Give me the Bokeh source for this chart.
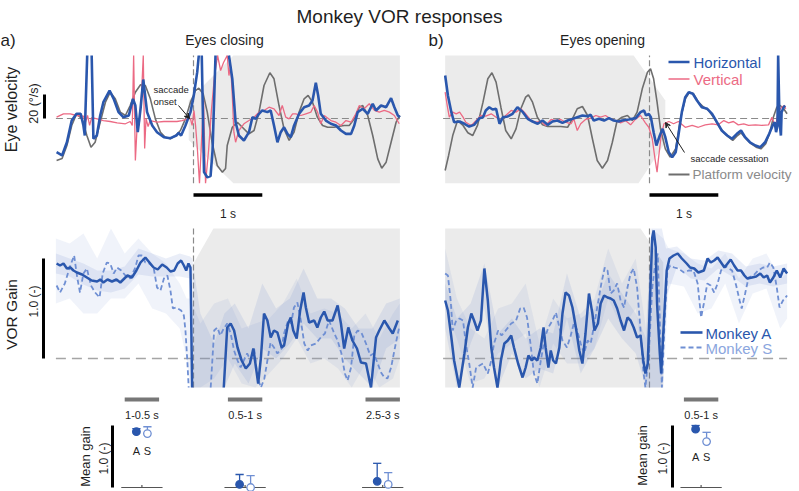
import numpy as np
from bokeh.plotting import figure
from bokeh.models import Range1d, Label, Arrow, VeeHead
from bokeh.embed import file_html
from bokeh.resources import INLINE

nan = float("nan")

# ---------------- data ----------------
# Eye / platform velocity (deg/s) around saccade onset (eyes closing), time in s
vel_close_h = [(-1.99, -28.1), (-1.91, -30.8), (-1.84, -19.8), (-1.77, -1.7), (-1.70, 3.9), (-1.64, 3.9),
               (-1.60, -5.8), (-1.58, -14.2), (-1.57, 6.7), (-1.545, 52.5), (-1.51, nan), (-1.48, 52.5),
               (-1.455, -16.9), (-1.405, -14.2), (-1.356, 2.5), (-1.31, 13.6), (-1.22, 23.3), (-1.16, 16.4),
               (-1.09, 5.3), (-1.02, 1.1), (-0.94, 2.5), (-0.88, 16.4), (-0.845, 10.8), (-0.81, -11.4),
               (-0.77, 8.1), (-0.73, 32.5), (-0.675, 5.3), (-0.60, -5.8), (-0.53, -11.4), (-0.43, -15.6),
               (-0.335, -16.4), (-0.25, -14.2), (-0.215, -11.9), (-0.18, -14.2), (-0.117, -5.8), (-0.044, 5.3),
               (0.004, 19.2), (0.054, 38.6), (0.077, 52.5), (0.10, nan), (0.12, 52.5), (0.153, -44.7),
               (0.20, -48.9), (0.248, -48.0), (0.277, -26.7), (0.32, 52.5), (0.42, nan), (0.515, 52.5),
               (0.564, 33.0), (0.612, -3.1), (0.66, -14.2), (0.733, -18.3), (0.806, -11.4), (0.856, 1.1),
               (0.904, -0.3), (0.952, 3.9), (1.0, 6.7), (1.074, 5.3), (1.122, 6.7), (1.17, -5.8),
               (1.22, -19.8), (1.268, -11.4), (1.316, -7.3), (1.366, -12.8), (1.414, -15.6), (1.462, -5.8),
               (1.535, 3.9), (1.608, 9.4), (1.68, 10.8), (1.73, 15.0), (1.778, 29.8), (1.812, 19.2),
               (1.85, 3.9), (1.924, -1.7), (1.997, -4.4), (2.07, -5.8), (2.143, -10.0), (2.216, -12.8),
               (2.29, -12.8), (2.337, -5.8), (2.386, 5.3), (2.46, 8.1), (2.532, 3.9), (2.605, 12.3),
               (2.653, 6.7), (2.726, 10.8), (2.80, 9.4), (2.872, 16.9), (2.92, 9.4), (2.97, 2.5), (3.0, 1.1)]

vel_close_v = [(-1.99, 1.1), (-1.89, 3.9), (-1.79, 3.9), (-1.70, 2.5), (-1.60, 1.9), (-1.57, -3.1),
               (-1.54, 2.5), (-1.51, -5.8), (-1.48, 0.8), (-1.40, -0.3), (-1.31, -1.7), (-1.21, -2.5),
               (-1.11, -3.6), (-0.99, -4.4), (-0.92, -2.5), (-0.89, -5.8), (-0.87, 52.5), (-0.845, -35.0),
               (-0.815, -1.7), (-0.79, -5.8), (-0.76, 15.0), (-0.73, 52.5), (-0.71, -25.0), (-0.69, 0.0),
               (-0.66, -6.7), (-0.63, -1.7), (-0.53, -3.1), (-0.43, -2.5), (-0.335, -2.5), (-0.24, -2.5),
               (-0.165, -1.7), (-0.09, -0.3), (-0.044, -0.3), (-0.02, -5.8), (0.007, 6.7), (0.03, -5.8),
               (0.058, -26.7), (0.087, -54.0), (0.117, -18.3), (0.146, 15.0), (0.175, -54.0), (0.219, -26.7),
               (0.26, 6.7), (0.306, 35.8), (0.35, 52.5), (0.394, 40.0), (0.437, 46.7), (0.49, 52.5),
               (0.515, 35.8), (0.54, 44.0), (0.564, 19.2), (0.587, -11.4), (0.612, -19.8), (0.66, -10.0),
               (0.733, -4.4), (0.806, -1.7), (0.88, 1.1), (0.952, 5.3), (1.025, 6.7), (1.098, 9.4),
               (1.17, 8.1), (1.243, 2.5), (1.29, 10.8), (1.34, 1.1), (1.39, -0.3), (1.44, 3.9), (1.487, 3.9),
               (1.56, 2.5), (1.633, 3.9), (1.706, 5.3), (1.754, 10.8), (1.803, 5.3), (1.85, -4.4), (1.90, 2.5),
               (1.997, -1.7), (2.07, -3.1), (2.143, -5.8), (2.216, -1.7), (2.29, -3.1), (2.36, 3.9),
               (2.41, 10.8), (2.48, 8.1), (2.555, 12.3), (2.63, 6.7), (2.70, 5.3), (2.774, 6.7), (2.847, 5.3),
               (2.92, 2.5), (2.99, -4.4)]

vel_close_p = [(-1.99, -35.0), (-1.91, -33.3), (-1.84, -22.5), (-1.77, -5.8), (-1.70, 3.9), (-1.62, -0.3),
               (-1.55, -14.2), (-1.49, -23.9), (-1.43, -19.8), (-1.356, -3.1), (-1.28, 13.6), (-1.21, 21.9),
               (-1.137, 16.4), (-1.064, 5.3), (-0.99, 2.5), (-0.92, 10.8), (-0.845, 21.9), (-0.77, 28.1),
               (-0.70, 27.5), (-0.627, 16.4), (-0.554, -0.3), (-0.48, -11.4), (-0.41, -15.6), (-0.335, -16.9),
               (-0.26, -14.2), (-0.19, -10.0), (-0.117, -0.3), (-0.044, 13.6), (0.03, 23.3), (0.077, 25.3),
               (0.14, 20.6), (0.20, 5.3), (0.27, -19.8), (0.345, -39.2), (0.42, -44.7), (0.466, -41.7),
               (0.49, -22.5), (0.564, -7.3), (0.637, -3.1), (0.71, -7.3), (0.806, -12.8), (0.88, -10.0),
               (0.952, 5.3), (1.025, 27.5), (1.11, 38.1), (1.17, 33.1), (1.243, 10.8), (1.316, -8.6),
               (1.39, -18.3), (1.462, -11.4), (1.535, 5.3), (1.608, 16.4), (1.666, 19.2), (1.73, 13.6),
               (1.80, 1.1), (1.876, -5.8), (1.95, -7.3), (2.045, -7.3), (2.12, -6.4), (2.19, -5.8),
               (2.264, -5.8), (2.337, -0.3), (2.41, 9.4), (2.46, 10.8), (2.532, 2.5), (2.605, -14.2),
               (2.678, -33.6), (2.736, -41.4), (2.80, -36.4), (2.872, -19.8), (2.945, -3.1), (3.0, 2.5)]

# Eye / platform velocity (deg/s) around saccade cessation (eyes opening)
vel_open_h = [(-2.97, 35.8), (-2.93, 19.2), (-2.88, 5.3), (-2.84, -3.1), (-2.76, -2.5), (-2.69, -4.4),
              (-2.62, -6.7), (-2.55, -5.3), (-2.47, 0.3), (-2.42, 1.1), (-2.38, 6.7), (-2.33, 9.4),
              (-2.28, 7.5), (-2.23, 8.1), (-2.18, -4.4), (-2.13, 1.1), (-2.06, 1.7), (-1.99, 3.9),
              (-1.92, 9.4), (-1.84, 5.3), (-1.77, -0.3), (-1.70, -2.5), (-1.625, -4.4), (-1.555, -1.7),
              (-1.48, -5.3), (-1.41, -2.5), (-1.34, -1.7), (-1.265, -3.6), (-1.19, -1.7), (-1.12, -0.3),
              (-1.05, 1.1), (-0.975, 2.5), (-0.90, 1.9), (-0.855, 3.1), (-0.81, -1.7), (-0.735, -0.3),
              (-0.66, -1.7), (-0.59, 0.3), (-0.52, -1.7), (-0.445, -2.5), (-0.40, -1.7), (-0.30, -0.8),
              (-0.20, 0.3), (-0.13, 5.3), (-0.08, 6.7), (-0.05, 2.5), (-0.01, 3.9), (0.02, 1.1),
              (0.06, -11.4), (0.10, -22.5), (0.15, -14.2), (0.19, -8.6), (0.23, -15.6), (0.28, -28.1),
              (0.33, -32.2), (0.38, -28.1), (0.42, -14.2), (0.47, 5.3), (0.52, 17.8), (0.57, 21.9),
              (0.63, 20.6), (0.69, 15.0), (0.76, 9.4), (0.84, 8.1), (0.91, 3.9), (0.98, -3.1),
              (1.05, -10.0), (1.13, -14.2), (1.20, -16.9), (1.27, -12.8), (1.33, -10.0), (1.39, -15.6),
              (1.46, -19.8), (1.54, -22.5), (1.61, -23.9), (1.68, -19.8), (1.74, -12.8), (1.79, -5.8),
              (1.82, -3.1), (1.84, -11.4), (1.86, -5.8), (1.87, 52.5), (1.89, -3.1), (1.91, -14.2),
              (1.92, 5.3), (1.95, 9.4), (1.97, 10.8)]

vel_open_v = [(-2.97, 21.9), (-2.94, 10.8), (-2.91, 1.1), (-2.86, 5.3), (-2.81, 3.9), (-2.76, 5.3),
              (-2.71, 1.1), (-2.67, -3.1), (-2.59, -5.8), (-2.52, -1.7), (-2.45, 2.5), (-2.38, 1.9),
              (-2.30, 3.9), (-2.23, 1.1), (-2.16, -1.7), (-2.09, 2.5), (-2.01, 6.7), (-1.94, 5.3),
              (-1.87, 8.1), (-1.80, 3.9), (-1.72, -1.7), (-1.65, -3.1), (-1.58, -2.5), (-1.51, -5.8),
              (-1.43, -0.8), (-1.36, -1.7), (-1.29, -0.8), (-1.22, -3.1), (-1.14, -4.4), (-1.10, -0.3),
              (-1.05, -10.0), (-1.0, -4.4), (-0.93, -0.8), (-0.855, 0.3), (-0.78, 2.5), (-0.71, 1.1),
              (-0.64, 2.5), (-0.565, -0.3), (-0.49, -1.7), (-0.42, -3.6), (-0.35, -1.7), (-0.275, -5.3),
              (-0.20, -0.3), (-0.13, 2.5), (-0.06, -3.6), (-0.01, -7.3), (0.04, -16.9), (0.08, -33.6),
              (0.11, -44.7), (0.13, -33.6), (0.17, -14.2), (0.21, -4.4), (0.28, -2.5), (0.35, -4.4),
              (0.42, -2.5), (0.52, -7.3), (0.62, -5.8), (0.71, -7.3), (0.81, -5.3), (0.91, -4.4),
              (1.0, -5.3), (1.08, -1.7), (1.15, -3.6), (1.22, -2.5), (1.29, -5.3), (1.37, -4.4),
              (1.44, -5.8), (1.54, -5.3), (1.63, -5.8), (1.73, -5.3), (1.78, 1.1), (1.83, -7.3),
              (1.87, 5.3), (1.92, 9.4), (1.96, 10.8), (1.98, 8.1)]

vel_open_p = [(-2.97, -43.3), (-2.92, -30.8), (-2.86, -14.2), (-2.79, -1.7), (-2.71, -5.8), (-2.64, -11.9),
              (-2.57, -14.2), (-2.50, -5.8), (-2.42, 13.6), (-2.35, 33.1), (-2.29, 38.1), (-2.23, 30.3),
              (-2.16, 9.4), (-2.09, -10.0), (-2.01, -16.9), (-1.94, -8.6), (-1.87, 8.1), (-1.80, 17.8),
              (-1.76, 19.7), (-1.70, 13.6), (-1.63, 1.1), (-1.555, -5.3), (-1.48, -6.7), (-1.39, -6.7),
              (-1.29, -6.7), (-1.19, -7.3), (-1.12, -0.3), (-1.05, 8.1), (-0.975, 10.0), (-0.90, 2.5),
              (-0.83, -16.9), (-0.76, -35.0), (-0.685, -41.4), (-0.61, -35.0), (-0.54, -19.8), (-0.47, -1.7),
              (-0.40, 1.1), (-0.32, 2.5), (-0.25, -1.7), (-0.18, 5.3), (-0.105, 24.7), (-0.03, 38.6),
              (0.015, 41.4), (0.06, 33.1), (0.11, 13.6), (0.16, -8.6), (0.23, -25.3), (0.30, -32.2),
              (0.38, -25.3), (0.45, -0.3), (0.52, 16.4), (0.58, 21.9), (0.64, 20.6), (0.71, 13.6),
              (0.79, 9.4), (0.86, 6.7), (0.93, 1.1), (1.0, -5.8), (1.08, -11.9), (1.15, -15.6),
              (1.21, -18.3), (1.27, -14.7), (1.33, -11.9), (1.40, -16.9), (1.48, -21.1), (1.55, -23.9),
              (1.62, -25.3), (1.69, -21.1), (1.75, -11.4), (1.80, 1.1), (1.85, 9.4), (1.90, 10.8),
              (1.95, 8.1), (2.0, 3.9)]

# VOR gain, eyes closing: monkey A (solid) and monkey S (dashed)
gain_close_a = [(-1.99, 0.95), (-1.94, 0.93), (-1.89, 0.95), (-1.84, 0.90), (-1.79, 0.91), (-1.745, 0.88),
                (-1.695, 0.86), (-1.62, 0.84), (-1.55, 0.81), (-1.48, 0.78), (-1.40, 0.77), (-1.356, 0.79),
                (-1.31, 0.76), (-1.25, 0.79), (-1.185, 0.77), (-1.12, 0.79), (-1.064, 0.76), (-1.005, 0.80),
                (-0.96, 0.83), (-0.895, 0.81), (-0.83, 0.88), (-0.77, 0.96), (-0.70, 1.01), (-0.64, 0.96),
                (-0.58, 0.91), (-0.52, 0.89), (-0.455, 0.94), (-0.39, 0.91), (-0.335, 0.87), (-0.28, 0.88),
                (-0.23, 0.95), (-0.18, 0.98), (-0.14, 0.93), (-0.106, 0.88), (-0.073, 0.95), (-0.044, 0.91),
                (-0.02, -0.29), (0.2, nan), (0.44, -0.29), (0.49, 0.31), (0.54, 0.35), (0.59, 0.28),
                (0.64, 0.11), (0.70, -0.02), (0.76, -0.10), (0.82, -0.05), (0.87, 0.10), (0.90, -0.05),
                (0.94, -0.25), (0.98, 0.01), (1.025, 0.45), (1.074, 0.38), (1.122, 0.21), (1.17, 0.28),
                (1.22, 0.26), (1.28, 0.11), (1.316, 0.13), (1.375, 0.35), (1.414, 0.41), (1.45, 0.28),
                (1.50, 0.20), (1.55, 0.48), (1.60, 0.66), (1.633, 0.51), (1.68, 0.36), (1.754, 0.38),
                (1.80, 0.31), (1.85, 0.41), (1.90, 0.47), (1.95, 0.38), (2.02, 0.38), (2.095, 0.53),
                (2.143, 0.35), (2.19, 0.10), (2.25, 0.31), (2.31, 0.18), (2.376, 0.10), (2.434, -0.04),
                (2.507, -0.05), (2.58, -0.29), (2.653, 0.21), (2.70, 0.28), (2.774, 0.38), (2.847, 0.30),
                (2.896, 0.25), (2.97, 0.38)]

gain_close_s = [(-1.99, 0.73), (-1.94, 0.66), (-1.87, 0.75), (-1.80, 0.91), (-1.735, 1.03), (-1.69, 0.81),
                (-1.65, 0.66), (-1.60, 0.85), (-1.55, 0.90), (-1.49, 0.73), (-1.43, 0.66), (-1.365, 0.61),
                (-1.32, 0.85), (-1.26, 0.96), (-1.21, 0.95), (-1.16, 0.85), (-1.11, 0.91), (-1.05, 0.88),
                (-0.99, 0.83), (-0.92, 0.80), (-0.845, 0.91), (-0.80, 1.03), (-0.75, 1.03), (-0.70, 0.96),
                (-0.64, 0.95), (-0.58, 0.91), (-0.53, 0.71), (-0.48, 0.68), (-0.43, 0.80), (-0.38, 0.83),
                (-0.335, 0.68), (-0.30, 0.50), (-0.25, 0.51), (-0.18, 0.48), (-0.14, 0.43), (-0.117, 0.28),
                (-0.09, -0.02), (-0.07, -0.29), (0.1, nan), (0.25, -0.29), (0.30, 0.28), (0.345, 0.31),
                (0.39, 0.23), (0.44, 0.30), (0.49, 0.35), (0.54, 0.25), (0.59, 0.08), (0.64, -0.02),
                (0.685, -0.09), (0.73, -0.02), (0.78, 0.05), (0.83, -0.02), (0.88, 0.11), (0.93, -0.19),
                (0.98, -0.29), (1.03, -0.20), (1.074, -0.02), (1.12, 0.16), (1.17, 0.11), (1.22, 0.05),
                (1.28, 0.10), (1.316, 0.25), (1.375, 0.38), (1.42, 0.35), (1.46, 0.51), (1.51, 0.56),
                (1.56, 0.38), (1.61, 0.15), (1.66, 0.08), (1.705, 0.13), (1.78, 0.15), (1.85, 0.21),
                (1.91, 0.25), (1.97, 0.38), (2.04, 0.26), (2.095, 0.18), (2.15, 0.05), (2.20, -0.15),
                (2.24, -0.22), (2.29, -0.09), (2.337, 0.23), (2.386, 0.28), (2.44, 0.26), (2.507, 0.15),
                (2.57, 0.03), (2.62, 0.05), (2.678, -0.05), (2.726, -0.14), (2.774, -0.19), (2.82, -0.20),
                (2.872, -0.09), (2.92, 0.08), (2.97, 0.25), (2.99, 0.31)]

# VOR gain, eyes opening
gain_open_a = [(-2.97, 0.58), (-2.93, 0.48), (-2.88, 0.21), (-2.84, -0.02), (-2.765, -0.29), (-2.69, 0.05),
               (-2.64, 0.31), (-2.59, 0.45), (-2.55, 0.38), (-2.50, 0.28), (-2.45, 0.38), (-2.40, 0.90),
               (-2.35, 0.58), (-2.30, 0.11), (-2.26, -0.09), (-2.21, -0.29), (-2.16, -0.02), (-2.11, 0.15),
               (-2.06, 0.18), (-2.01, 0.23), (-1.97, 0.11), (-1.91, -0.05), (-1.845, -0.19), (-1.80, -0.09),
               (-1.76, 0.03), (-1.71, -0.02), (-1.68, 0.01), (-1.63, -0.02), (-1.58, 0.11), (-1.54, 0.31),
               (-1.51, 0.11), (-1.47, -0.09), (-1.435, 0.08), (-1.40, -0.02), (-1.36, -0.05), (-1.31, 0.11),
               (-1.265, 0.45), (-1.22, 0.66), (-1.17, 0.63), (-1.12, 0.51), (-1.07, 0.31), (-1.02, 0.08),
               (-0.975, -0.05), (-0.93, 0.25), (-0.88, 0.65), (-0.83, 0.45), (-0.80, 0.28), (-0.75, 0.35),
               (-0.71, 0.55), (-0.66, 0.63), (-0.61, 0.61), (-0.565, 0.60), (-0.52, 0.58), (-0.47, 0.50),
               (-0.42, 0.38), (-0.37, 0.28), (-0.32, 0.41), (-0.275, 0.38), (-0.23, 0.31), (-0.18, 0.21),
               (-0.13, 0.23), (-0.09, -0.02), (-0.06, -0.15), (-0.025, -0.05), (0.005, 0.55), (0.04, 1.21),
               (0.06, 1.28), (0.09, 1.11), (0.11, 0.55), (0.15, 0.05), (0.17, -0.15), (0.21, 0.38),
               (0.25, 0.88), (0.29, 1.0), (0.35, 1.03), (0.41, 1.05), (0.47, 1.0), (0.54, 0.95),
               (0.59, 0.91), (0.65, 0.90), (0.71, 0.86), (0.79, 0.88), (0.845, 1.0), (0.89, 0.96),
               (0.94, 0.98), (0.99, 1.01), (1.04, 0.96), (1.09, 0.91), (1.135, 0.95), (1.18, 0.99),
               (1.23, 0.93), (1.28, 0.88), (1.33, 0.88), (1.38, 0.83), (1.42, 0.80), (1.49, 0.81),
               (1.55, 0.82), (1.61, 0.85), (1.66, 0.81), (1.71, 0.83), (1.75, 0.76), (1.80, 0.81),
               (1.85, 0.88), (1.90, 0.81), (1.95, 0.90), (2.0, 0.85)]

gain_open_s = [(-2.97, 0.85), (-2.93, 0.83), (-2.89, 0.58), (-2.86, 0.28), (-2.81, 0.38), (-2.76, 0.40),
               (-2.71, 0.38), (-2.67, 0.15), (-2.62, -0.05), (-2.57, -0.29), (-2.52, -0.09), (-2.47, -0.07),
               (-2.42, -0.05), (-2.35, -0.15), (-2.30, -0.02), (-2.26, 0.15), (-2.20, 0.28), (-2.15, 0.23),
               (-2.09, 0.28), (-2.01, 0.35), (-1.94, 0.38), (-1.88, 0.50), (-1.83, 0.51), (-1.78, 0.41),
               (-1.73, 0.15), (-1.68, -0.15), (-1.63, -0.25), (-1.58, -0.02), (-1.52, 0.21), (-1.47, 0.31),
               (-1.41, 0.38), (-1.36, 0.46), (-1.31, 0.31), (-1.265, 0.18), (-1.20, 0.11), (-1.145, 0.23),
               (-1.10, 0.35), (-1.05, 0.28), (-1.0, 0.15), (-0.95, 0.05), (-0.90, 0.18), (-0.855, 0.15),
               (-0.80, 0.35), (-0.75, 0.55), (-0.70, 0.75), (-0.65, 0.91), (-0.61, 0.88), (-0.565, 0.65),
               (-0.52, 0.68), (-0.47, 0.75), (-0.42, 0.58), (-0.37, 0.51), (-0.32, 0.71), (-0.275, 0.85),
               (-0.23, 0.90), (-0.18, 0.71), (-0.13, 0.28), (-0.09, -0.12), (-0.06, -0.29), (-0.01, 0.05),
               (0.04, 0.71), (0.09, 0.98), (0.12, 1.05), (0.15, 0.38), (0.18, -0.29), (0.22, 0.38),
               (0.26, 0.88), (0.30, 0.93), (0.36, 0.91), (0.42, 0.90), (0.50, 0.86), (0.57, 0.88),
               (0.64, 0.88), (0.70, 0.75), (0.75, 0.41), (0.79, 0.55), (0.84, 0.75), (0.89, 0.73),
               (0.94, 0.66), (0.99, 0.75), (1.04, 0.88), (1.09, 0.93), (1.135, 0.91), (1.20, 0.88),
               (1.26, 0.73), (1.31, 0.58), (1.34, 0.50), (1.39, 0.65), (1.44, 0.81), (1.51, 0.83),
               (1.58, 0.88), (1.65, 0.91), (1.71, 0.91), (1.75, 0.96), (1.80, 0.91), (1.85, 0.71),
               (1.89, 0.51), (1.94, 0.58), (2.0, 0.63)]

# spread of the gain traces: (time, lower, upper)
band_close_a = [(-2.0, 0.85, 1.05), (-1.8, 0.82, 1.0), (-1.6, 0.74, 0.95), (-1.4, 0.68, 0.88), (-1.2, 0.66, 0.88),
                (-1.0, 0.70, 0.92), (-0.8, 0.84, 1.10), (-0.6, 0.82, 1.05), (-0.4, 0.82, 1.0), (-0.2, 0.82, 1.05),
                (-0.05, 0.80, 1.02), (-0.02, -0.29, 1.0), (0.1, -0.29, 0.45), (0.3, -0.29, 0.15), (0.45, -0.29, 0.45),
                (0.6, -0.05, 0.55), (0.8, -0.25, 0.3), (1.0, 0.1, 0.75), (1.2, 0.0, 0.5), (1.4, 0.15, 0.6),
                (1.6, 0.35, 0.9), (1.8, 0.2, 0.6), (2.0, 0.2, 0.6), (2.2, 0.0, 0.5), (2.4, -0.15, 0.3),
                (2.6, -0.29, 0.3), (2.8, 0.1, 0.55), (3.0, 0.2, 0.6)]
band_close_s = [(-2.0, 0.55, 1.2), (-1.8, 0.6, 1.15), (-1.6, 0.45, 1.25), (-1.4, 0.45, 1.0), (-1.2, 0.6, 1.3),
                (-1.0, 0.6, 1.05), (-0.8, 0.75, 1.2), (-0.6, 0.5, 1.05), (-0.4, 0.45, 0.95), (-0.2, 0.3, 0.75),
                (-0.1, 0.0, 0.6), (-0.05, -0.29, 0.6), (0.1, -0.29, 0.35), (0.3, -0.2, 0.55), (0.5, 0.0, 0.6),
                (0.7, -0.25, 0.3), (0.9, -0.29, 0.35), (1.1, -0.15, 0.4), (1.3, 0.0, 0.55), (1.5, 0.2, 0.8),
                (1.7, -0.05, 0.45), (1.9, 0.0, 0.5), (2.1, -0.1, 0.45), (2.3, -0.29, 0.3), (2.5, -0.05, 0.45),
                (2.7, -0.29, 0.2), (2.9, -0.2, 0.45), (3.0, 0.0, 0.55)]
band_open_a = [(-2.97, 0.3, 0.75), (-2.8, -0.29, 0.4), (-2.6, 0.15, 0.55), (-2.4, 0.5, 0.95), (-2.2, -0.29, 0.25),
               (-2.0, 0.05, 0.4), (-1.8, -0.2, 0.2), (-1.6, -0.1, 0.3), (-1.4, -0.15, 0.25), (-1.2, 0.4, 0.85),
               (-1.0, -0.15, 0.4), (-0.8, 0.1, 0.5), (-0.6, 0.4, 0.85), (-0.4, 0.2, 0.65), (-0.2, 0.05, 0.45),
               (-0.05, -0.29, 0.2), (0.03, -0.29, 1.3), (0.18, -0.29, 1.3), (0.24, 0.6, 1.1), (0.4, 0.92, 1.12),
               (0.6, 0.8, 1.0), (0.8, 0.78, 0.98), (1.0, 0.9, 1.08), (1.2, 0.82, 1.05), (1.4, 0.72, 0.92),
               (1.6, 0.75, 0.95), (1.8, 0.72, 0.92), (2.0, 0.75, 0.95)]
band_open_s = [(-2.97, 0.5, 1.1), (-2.8, 0.2, 0.6), (-2.6, -0.25, 0.3), (-2.4, -0.2, 0.2), (-2.2, 0.05, 0.5),
               (-2.0, 0.15, 0.55), (-1.8, 0.25, 0.75), (-1.6, -0.29, 0.15), (-1.4, 0.15, 0.6), (-1.2, -0.05, 0.4),
               (-1.0, -0.05, 0.45), (-0.8, 0.1, 0.6), (-0.6, 0.6, 1.1), (-0.4, 0.3, 0.75), (-0.2, 0.5, 1.0),
               (-0.05, -0.29, 0.3), (0.03, -0.29, 1.3), (0.2, -0.29, 1.2), (0.28, 0.75, 1.1), (0.5, 0.72, 1.05),
               (0.7, 0.45, 0.95), (0.9, 0.5, 0.9), (1.1, 0.75, 1.05), (1.3, 0.35, 0.8), (1.5, 0.65, 1.0),
               (1.7, 0.7, 1.05), (1.9, 0.3, 0.8), (2.0, 0.4, 0.85)]

# eyes-closed period outlines (time, value)
closed_vel_close = [(-0.07, 15), (0.58, 52.5), (3.0, 52.5), (3.0, -54), (0.58, -54), (-0.07, -18)]
closed_vel_open = [(-2.97, 52.5), (-0.23, 52.5), (0.23, 15), (0.23, -20), (-0.16, -54), (-2.97, -54)]
closed_gain_close = [(0.0, 0.95), (0.29, 1.3), (3.0, 1.3), (3.0, -0.29), (0.0, -0.29)]
closed_gain_open = [(-2.97, 1.3), (-0.13, 1.3), (0.2, 0.96), (0.2, -0.29), (-2.97, -0.29)]

# mean gain per analysis window
windows_close = [(-1.0, -0.5), (0.5, 1.0), (2.5, 3.0)]
window_labels_close = ["1-0.5 s", "0.5-1 s", "2.5-3 s"]
mean_close_a = [0.90, 0.05, 0.10]
err_close_a = [0.05, 0.16, 0.29]
mean_close_s = [0.87, 0.0, 0.05]
err_close_s = [0.11, 0.19, 0.19]
windows_open = [(0.5, 1.0)]
window_labels_open = ["0.5-1 s"]
mean_open_a = [0.94]
err_open_a = [0.06]
mean_open_s = [0.74]
err_open_s = [0.15]

# ---------------- styling ----------------
W, H = 799, 491
FONT = "Liberation Sans"
INK = "#1f1f1f"
BLUE = "#2A57AD"
PINK = "#EC6A84"
GREY = "#6E6E6E"
S_BLUE = "#6F8FD3"
BAND = "#5B7FCB"
SHADE = "#EBEBEB"

p = figure(width=W, height=H, output_backend="svg", toolbar_location=None,
           x_range=Range1d(0, W), y_range=Range1d(H, 0),
           x_axis_location=None, y_axis_location=None, min_border=0)
p.grid.visible = False
p.outline_line_color = None
p.background_fill_color = "white"
p.border_fill_color = "white"


def axis_range(anchor_px, px_per_unit, size_px, downward=False):
    """Range whose value 0 lands on anchor_px of the canvas."""
    if downward:
        return Range1d(start=(anchor_px - size_px) / px_per_unit, end=anchor_px / px_per_unit)
    return Range1d(start=-anchor_px / px_per_unit, end=(size_px - anchor_px) / px_per_unit)


SEC = 68.8
p.extra_x_ranges = {"ta": axis_range(193, SEC, W), "tb": axis_range(649, SEC, W)}
p.extra_y_ranges = {"vel": axis_range(118, 1.2, H, True),
                    "gain": axis_range(358, 100, H, True),
                    "mean": axis_range(487, 62, H, True)}

VEL_TOP, VEL_BOT = 52.5, -54
GAIN_TOP, GAIN_BOT = 1.3, -0.29


def cols(pairs):
    a = np.array(pairs, dtype=float)
    return [a[:, i] for i in range(a.shape[1])]


def label(x, y, text, size, color=INK, align="left", baseline="alphabetic", angle=0.0, xr="default", yr="default"):
    p.add_layout(Label(x=x, y=y, text=text, text_font=FONT, text_font_size=f"{size}px",
                       text_color=color, text_align=align, text_baseline=baseline, angle=angle,
                       x_range_name=xr, y_range_name=yr))


panels = [
    dict(xr="ta", t0=-2.0, t1=3.0, h=vel_close_h, v=vel_close_v, pl=vel_close_p,
         ga=gain_close_a, gs=gain_close_s, ba=band_close_a, bs=band_close_s,
         sv=closed_vel_close, sg=closed_gain_close),
    dict(xr="tb", t0=-3.0, t1=2.0, h=vel_open_h, v=vel_open_v, pl=vel_open_p,
         ga=gain_open_a, gs=gain_open_s, ba=band_open_a, bs=band_open_s,
         sv=closed_vel_open, sg=closed_gain_open),
]

for pn in panels:
    xr = pn["xr"]
    # eyes-closed shading
    sx, sy = cols(pn["sv"])
    p.patch(sx, sy, x_range_name=xr, y_range_name="vel", fill_color=SHADE, line_color=None)
    gx, gy = cols(pn["sg"])
    p.patch(gx, gy, x_range_name=xr, y_range_name="gain", fill_color=SHADE, line_color=None)

    # reference lines
    p.segment(x0=[pn["t0"]], y0=[0], x1=[pn["t1"]], y1=[0], x_range_name=xr, y_range_name="vel",
              line_color="#8a8a8a", line_width=1, line_dash="7 4")
    p.segment(x0=[0], y0=[VEL_BOT], x1=[0], y1=[VEL_TOP], x_range_name=xr, y_range_name="vel",
              line_color="#8a8a8a", line_width=1.2, line_dash="6 3")
    p.segment(x0=[pn["t0"]], y0=[0], x1=[pn["t1"]], y1=[0], x_range_name=xr, y_range_name="gain",
              line_color="#a5a5a5", line_width=1.5, line_dash="10 6")
    p.segment(x0=[0], y0=[GAIN_BOT], x1=[0], y1=[GAIN_TOP], x_range_name=xr, y_range_name="gain",
              line_color="#8a8a8a", line_width=1.2, line_dash="6 3")

    # velocity traces
    t, y = cols(pn["pl"])
    p.line(t, y, x_range_name=xr, y_range_name="vel", line_color=GREY, line_width=1.6)
    t, y = cols(pn["v"])
    p.line(t, y, x_range_name=xr, y_range_name="vel", line_color=PINK, line_width=1.3)
    t, y = cols(pn["h"])
    p.line(t, y, x_range_name=xr, y_range_name="vel", line_color=BLUE, line_width=2.6)

    # gain bands and traces
    t, lo, hi = cols(pn["bs"])
    p.varea(x=t, y1=lo, y2=hi, x_range_name=xr, y_range_name="gain", fill_color=BAND, fill_alpha=0.09)
    t, lo, hi = cols(pn["ba"])
    p.varea(x=t, y1=lo, y2=hi, x_range_name=xr, y_range_name="gain", fill_color=BAND, fill_alpha=0.13)
    t, y = cols(pn["gs"])
    p.line(t, y, x_range_name=xr, y_range_name="gain", line_color=S_BLUE, line_width=1.8, line_dash="5 3")
    t, y = cols(pn["ga"])
    p.line(t, y, x_range_name=xr, y_range_name="gain", line_color=BLUE, line_width=2.5)

    # 1 s time scale bar
    p.segment(x0=[0], y0=[194.5], x1=[1], y1=[194.5], x_range_name=xr, line_color="black", line_width=3.5)
    label(0.5, 213, "1 s", 12, xr=xr, align="center")


def mean_gain_plot(xr, windows, names, ma, ea, ms, es, label_y=None):
    dx = 0.08
    for (w0, w1), name, a, eA, s, eS in zip(windows, names, ma, ea, ms, es):
        c = 0.5 * (w0 + w1)
        p.segment(x0=[w0], y0=[399], x1=[w1], y1=[399], x_range_name=xr, line_color="#777777",
                  line_width=4, line_cap="butt")
        label(c, 414, name, 11, xr=xr, align="center")
        p.segment(x0=[c - 0.3], y0=[0], x1=[c + 0.3], y1=[0], x_range_name=xr, y_range_name="mean",
                  line_color="#555555", line_width=1.2)
        p.segment(x0=[c], y0=[0], x1=[c], y1=[0.04], x_range_name=xr, y_range_name="mean",
                  line_color="#555555", line_width=1.2)
        for xpos, val, err, col, fill in [(c - dx, a, eA, BLUE, BLUE), (c + dx, s, eS, S_BLUE, "white")]:
            p.segment(x0=[xpos], y0=[val], x1=[xpos], y1=[val + err], x_range_name=xr, y_range_name="mean",
                      line_color=col, line_width=1.3)
            p.segment(x0=[xpos - 0.06], y0=[val + err], x1=[xpos + 0.06], y1=[val + err], x_range_name=xr,
                      y_range_name="mean", line_color=col, line_width=1.3)
            p.scatter([xpos], [val], x_range_name=xr, y_range_name="mean", size=7.5,
                      fill_color=fill, line_color=col, line_width=1.3)
        if label_y is not None:
            label(c - dx, label_y, "A", 11, xr=xr, align="center")
            label(c + dx, label_y, "S", 11, xr=xr, align="center")
            label_y = None


mean_gain_plot("ta", windows_close, window_labels_close, mean_close_a, err_close_a,
               mean_close_s, err_close_s, label_y=450)
mean_gain_plot("tb", windows_open, window_labels_open, mean_open_a, err_open_a,
               mean_open_s, err_open_s, label_y=456)

# unit scale bars
p.segment(x0=[44], y0=[0], x1=[44], y1=[20], y_range_name="vel", line_color="black", line_width=3)
p.segment(x0=[43], y0=[0], x1=[43], y1=[1], y_range_name="gain", line_color="black", line_width=3)
p.segment(x0=[112], y0=[0], x1=[112], y1=[1], y_range_name="mean", line_color="black", line_width=3)
p.segment(x0=[672], y0=[0], x1=[672], y1=[1], y_range_name="mean", line_color="black", line_width=3)

# titles and axis captions
label(399, 16, "Monkey VOR responses", 19, align="center")
label(0, 40, "a)", 17)
label(428, 40, "b)", 17)
label(224, 39, "Eyes closing", 14, align="center")
label(602, 39, "Eyes opening", 14, align="center")
up = np.pi / 2
label(11, 109, "Eye velocity", 16, align="center", baseline="middle", angle=up)
label(33, 103, "20 (°/s)", 12.5, align="center", baseline="middle", angle=up)
label(11, 314, "VOR Gain", 15.5, align="center", baseline="middle", angle=up)
label(33, 301, "1.0 (-)", 12, align="center", baseline="middle", angle=up)
label(85, 456, "Mean gain", 13, align="center", baseline="middle", angle=up)
label(103, 458, "1.0 (-)", 12, align="center", baseline="middle", angle=up)
label(642, 455, "Mean gain", 13, align="center", baseline="middle", angle=up)
label(662, 458, "1.0 (-)", 12, align="center", baseline="middle", angle=up)

# event annotations
label(153, 89, "saccade", 9.5)
label(153, 101, "onset", 9.5)
p.add_layout(Arrow(end=VeeHead(size=5, line_color=INK, fill_color=INK, line_width=1),
                   x_start=178, y_start=105, x_end=189, y_end=118, line_color=INK, line_width=1))
label(690, 158, "saccade cessation", 9.5)
p.add_layout(Arrow(end=VeeHead(size=5, line_color=INK, fill_color=INK, line_width=1),
                   x_start=684, y_start=152, x_end=665, y_end=122, line_color=INK, line_width=1))

# legends
p.segment(x0=[668], y0=[61.5], x1=[689], y1=[61.5], line_color=BLUE, line_width=2.6)
label(693, 62, "Horizontal", 15, color=BLUE, baseline="middle")
p.segment(x0=[668], y0=[78.5], x1=[689], y1=[78.5], line_color=PINK, line_width=1.5)
label(693, 79, "Vertical", 15, color=PINK, baseline="middle")
p.segment(x0=[668], y0=[174], x1=[689], y1=[174], line_color=GREY, line_width=1.8)
label(692, 174, "Platform velocity", 13.5, color="#8a8a8a", baseline="middle")
p.segment(x0=[680], y0=[332], x1=[702], y1=[332], line_color=BLUE, line_width=2.6)
label(705, 333, "Monkey A", 15, color=BLUE, baseline="middle")
p.segment(x0=[680], y0=[347], x1=[702], y1=[347], line_color=S_BLUE, line_width=1.8, line_dash="5 3")
label(705, 348, "Monkey S", 15, color="#8BA6DE", baseline="middle")

open("out.html", "w").write(file_html(p, INLINE))
